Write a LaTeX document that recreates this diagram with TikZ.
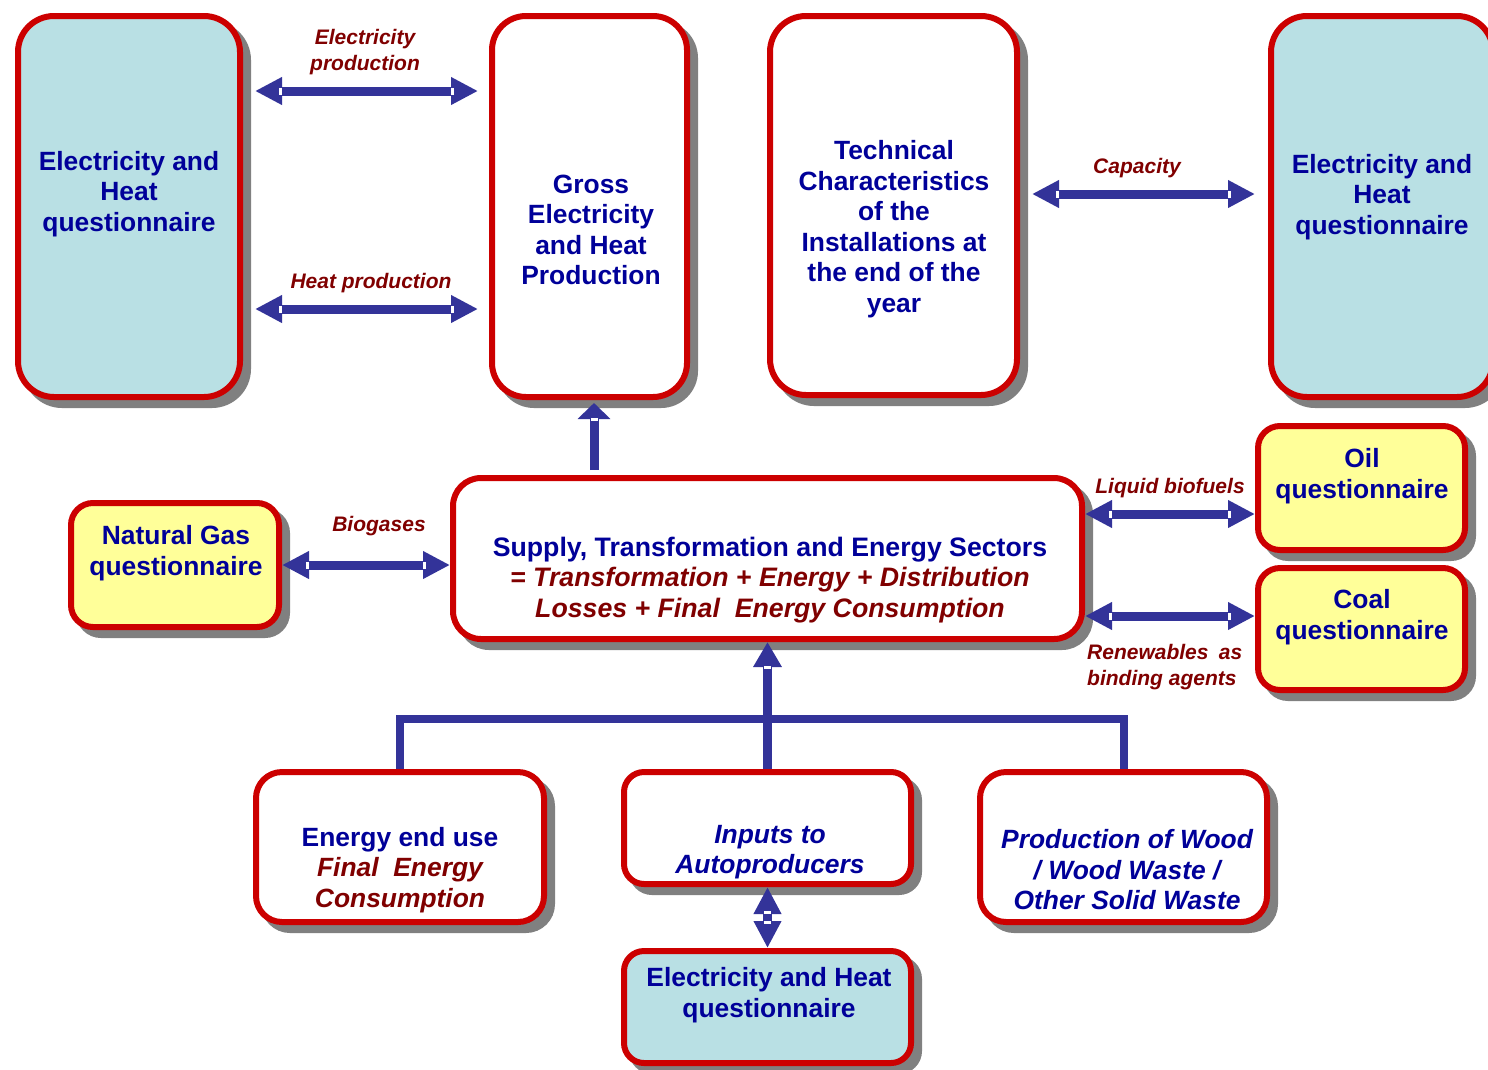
\documentclass[tikz,border=0pt]{standalone}
\usepackage{fontspec}
\setmainfont{Liberation Sans}
\usetikzlibrary{arrows.meta,shadows,decorations.markings,calc}
\definecolor{tblue}{RGB}{0,0,153}
\definecolor{lred}{RGB}{128,0,0}
\definecolor{bred}{RGB}{204,0,0}
\definecolor{ablue}{RGB}{51,51,153}
\definecolor{lblue}{RGB}{185,224,228}
\definecolor{lyellow}{RGB}{255,255,153}
\definecolor{shgray}{RGB}{128,128,128}
\tikzset{
  box/.style={draw=bred, line width=6pt, fill=white, inner sep=0pt,
    general shadow={fill=shgray, draw=shgray, shadow xshift=8pt, shadow yshift=-8pt}},
  btxt/.style={font=\fontsize{26.4}{30.5}\selectfont\bfseries, text=tblue, align=center, inner sep=0pt},
  lbl/.style={font=\fontsize{21}{26.5}\selectfont\bfseries\itshape, text=lred, align=center, inner sep=0pt},
  dbl/.style={line width=9pt, draw=ablue,
    {Triangle[length=27pt,width=26pt]}-{Triangle[length=27pt,width=26pt]},
    postaction={decorate, decoration={markings,
      mark=at position 25pt with {\fill[white] (-1pt,-3.5pt) rectangle (2pt,3.5pt);},
      mark=at position -25pt with {\fill[white] (-2pt,-3.5pt) rectangle (1pt,3.5pt);}}}},
  uparrow/.style 2 args={line width=9pt, draw=ablue, -{Triangle[length=#1,width=#2]},
    postaction={decorate, decoration={markings,
      mark=at position -#1+1pt with {\fill[white] (-2.5pt,-3.5pt) rectangle (0.5pt,3.5pt);}}}},
  tree/.style={line width=8pt, draw=ablue}
}
\begin{document}
\begin{tikzpicture}[x=1pt,y=-1pt]
\useasboundingbox (0,0) rectangle (1488,1069);
\clip (0,0) rectangle (1488,1069);
% boxes
\node[box, fill=lblue, minimum width=222pt, minimum height=381pt, rounded corners=36pt] (eh1) at (129,206.5) {};
\node[box, minimum width=195pt, minimum height=381pt, rounded corners=34pt] (gross) at (589.5,206.5) {};
\node[box, minimum width=247pt, minimum height=379pt, rounded corners=36pt] (tech) at (893.5,205.5) {};
\node[box, fill=lblue, minimum width=222pt, minimum height=381pt, rounded corners=36pt] (eh2) at (1382,206.5) {};
\node[box, fill=lyellow, minimum width=207pt, minimum height=124pt, rounded corners=22pt] (oil) at (1361.5,488) {};
\node[box, fill=lyellow, minimum width=207pt, minimum height=122pt, rounded corners=22pt] (coal) at (1361.5,629) {};
\node[box, fill=lyellow, minimum width=208pt, minimum height=124pt, rounded corners=22pt] (ng) at (175,565) {};
\node[box, minimum width=629pt, minimum height=161pt, rounded corners=28pt] (supply) at (767.5,558.5) {};
\node[box, minimum width=288pt, minimum height=150pt, rounded corners=26pt] (enduse) at (400,847) {};
\node[box, minimum width=287pt, minimum height=112pt, rounded corners=20pt] (inputs) at (767.5,828) {};
\node[box, minimum width=287pt, minimum height=150pt, rounded corners=26pt] (wood) at (1123.5,847) {};
\node[box, fill=lblue, minimum width=287pt, minimum height=112pt, rounded corners=20pt] (eh3) at (767.5,1007) {};
% helper coordinates
\coordinate (r1) at (0,91);
\coordinate (r2) at (0,309);
\coordinate (r3) at (0,194);
\coordinate (r4) at (0,565);
\coordinate (r5) at (0,514);
\coordinate (r6) at (0,616);
\coordinate (c594) at (594,0);
\coordinate (bar) at (0,719);
% connectors
\draw[dbl] ($(eh1.east |- r1)+(12,0)$) -- ($(gross.west |- r1)+(-11,0)$);
\draw[dbl] ($(eh1.east |- r2)+(12,0)$) -- ($(gross.west |- r2)+(-11,0)$);
\draw[dbl] ($(tech.east |- r3)+(12,0)$) -- ($(eh2.west |- r3)+(-13,0)$);
\draw[dbl] (ng.east |- r4) -- (supply.west |- r4);
\draw[dbl] (supply.east |- r5) -- (oil.west |- r5);
\draw[dbl] (supply.east |- r6) -- (coal.west |- r6);
\draw[dbl] (inputs.south) -- (eh3.north);
\draw[uparrow={16pt}{32pt}] ($(supply.north -| c594)+(0,-5)$) -- ($(gross.south -| c594)+(0,3)$);
\draw[tree] (enduse.north) -- (enduse.north |- bar) -- (wood.north |- bar) -- (wood.north);
\draw[uparrow={25pt}{27pt}] (inputs.north) -- (supply.south);
% box texts
\node[btxt] (t-eh1) at (129,194) {Electricity and\\Heat\\questionnaire};
\node[btxt] (t-gross) at (591,230) {Gross\\Electricity\\and Heat\\Production};
\node[btxt] (t-tech) at (894,229) {Technical\\Characteristics\\of the\\Installations at\\the end of the\\year};
\node[btxt] (t-eh2) at (1382,197) {Electricity and\\Heat\\questionnaire};
\node[btxt] (t-oil) at (1362,476) {Oil\\questionnaire};
\node[btxt] (t-coal) at (1362,617) {Coal\\questionnaire};
\node[btxt] (t-ng) at (176,553) {Natural Gas\\questionnaire};
\node[btxt, font=\fontsize{26.7}{30.5}\selectfont\bfseries] (t-supply) at (770,580) {Supply, Transformation and Energy Sectors\\
  {\color{lred}\itshape = Transformation + Energy + Distribution}\\
  {\color{lred}\itshape Losses + Final\ \ Energy Consumption}};
\node[btxt] (t-enduse) at (400,870) {Energy end use\\
  {\color{lred}\itshape Final\ \ Energy}\\
  {\color{lred}\itshape Consumption}};
\node[btxt, font=\fontsize{26.4}{30.5}\selectfont\bfseries\itshape] (t-inputs) at (770,852) {Inputs to\\Autoproducers};
\node[btxt, font=\fontsize{26.4}{30.5}\selectfont\bfseries\itshape] (t-wood) at (1127,870) {Production of Wood\\/ Wood Waste /\\Other Solid Waste};
\node[btxt] (t-eh3) at (769,995) {Electricity and Heat\\questionnaire};
% connector labels
\node[lbl] (l-elec) at (365,52) {Electricity\\production};
\node[lbl] (l-heat) at (371,283) {Heat production};
\node[lbl] (l-cap) at (1137,168) {Capacity};
\node[lbl] (l-bio) at (379,526) {Biogases};
\node[lbl] (l-liq) at (1170,488) {Liquid biofuels};
\node[lbl, align=left, anchor=west] (l-ren) at (1087,667) {\makebox[155pt][s]{Renewables as}\\binding agents};
\end{tikzpicture}
\end{document}
